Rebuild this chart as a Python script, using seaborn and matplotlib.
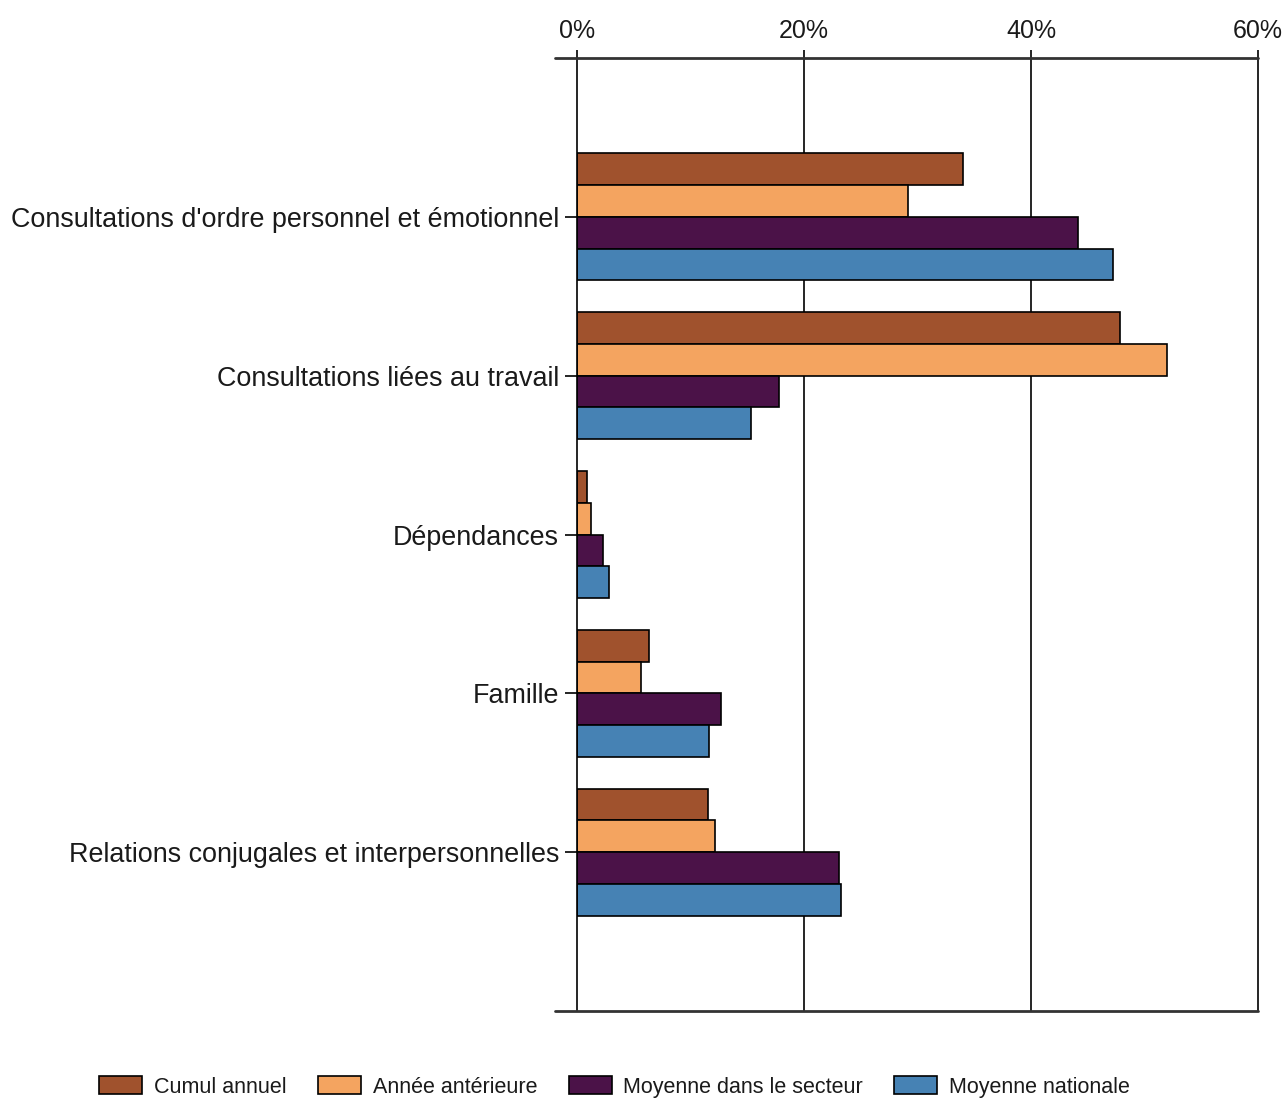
import matplotlib
matplotlib.use("Agg")
import matplotlib.pyplot as plt
import seaborn as sns
import pandas as pd
from matplotlib.ticker import FuncFormatter

categories = [
    "Consultations d'ordre personnel et émotionnel",
    "Consultations liées au travail",
    "Dépendances",
    "Famille",
    "Relations conjugales et interpersonnelles",
]
series = ["Cumul annuel", "Année antérieure", "Moyenne dans le secteur", "Moyenne nationale"]
cumul_annuel = [34.0, 47.8, 0.9, 6.3, 11.5]
annee_anterieure = [29.2, 52.0, 1.2, 5.6, 12.2]
moyenne_secteur = [44.1, 17.8, 2.3, 12.7, 23.1]
moyenne_nationale = [47.2, 15.3, 2.8, 11.6, 23.3]
colors = ["#A0522D", "#F4A460", "#4B1248", "#4682B4"]
x_ticks = [0, 20, 40, 60]

values = [cumul_annuel, annee_anterieure, moyenne_secteur, moyenne_nationale]
rows = []
for s, vals in zip(series, values):
    for c, v in zip(categories, vals):
        rows.append({"Catégorie": c, "Série": s, "Valeur": v})
df = pd.DataFrame(rows)

sns.set_theme(style="white")
plt.rcParams["font.family"] = ["Liberation Sans", "DejaVu Sans"]

fig = plt.figure(figsize=(12.86, 11.01), dpi=100)
ax = fig.add_axes([0.4487, 0.0817, 0.9782 - 0.4487, 0.9473 - 0.0817])

sns.barplot(data=df, y="Catégorie", x="Valeur", hue="Série", order=categories,
            hue_order=series, palette=dict(zip(series, colors)), orient="h",
            width=0.8, edgecolor="black", linewidth=1.2, saturation=1,
            ax=ax, legend=True)

ax.set_xlim(0, 60)
ax.set_ylim(5.0, -1.0)
ax.set_xticks(x_ticks)
ax.xaxis.set_major_formatter(FuncFormatter(lambda v, p: f"{int(v)}%"))
ax.xaxis.tick_top()
ax.set_xlabel("")
ax.set_ylabel("")
ax.set_axisbelow(True)
for xv in x_ticks[1:-1]:
    ax.axvline(xv, color="black", linewidth=1.2, zorder=0)

ax.tick_params(axis="x", which="major", top=True, bottom=False, direction="out",
               length=6, width=1.2, color="black", labelsize=18, pad=5, labelcolor="#1a1a1a")
ax.tick_params(axis="y", which="major", left=True, direction="out", length=9,
               width=1.2, color="black", labelsize=19.4, pad=4, labelcolor="#1a1a1a")

for side in ["left", "right"]:
    ax.spines[side].set_visible(True)
    ax.spines[side].set_color("black")
    ax.spines[side].set_linewidth(1.2)
for side in ["top", "bottom"]:
    ax.spines[side].set_visible(False)
for yv in [0, 1]:
    ax.plot([-0.032, 1.0], [yv, yv], transform=ax.transAxes, color="#333333",
            linewidth=2.0, clip_on=False, zorder=5)

handles, labels = ax.get_legend_handles_labels()
ax.get_legend().remove()
leg = fig.legend(handles, labels, loc="center", bbox_to_anchor=(0.478, 0.0127),
                 ncol=4, frameon=False, fontsize=15.5, handlelength=2.0,
                 handleheight=0.85, handletextpad=0.55, columnspacing=1.45)
for t in leg.get_texts():
    t.set_color("#1a1a1a")

fig.savefig("out.png", dpi=100)
